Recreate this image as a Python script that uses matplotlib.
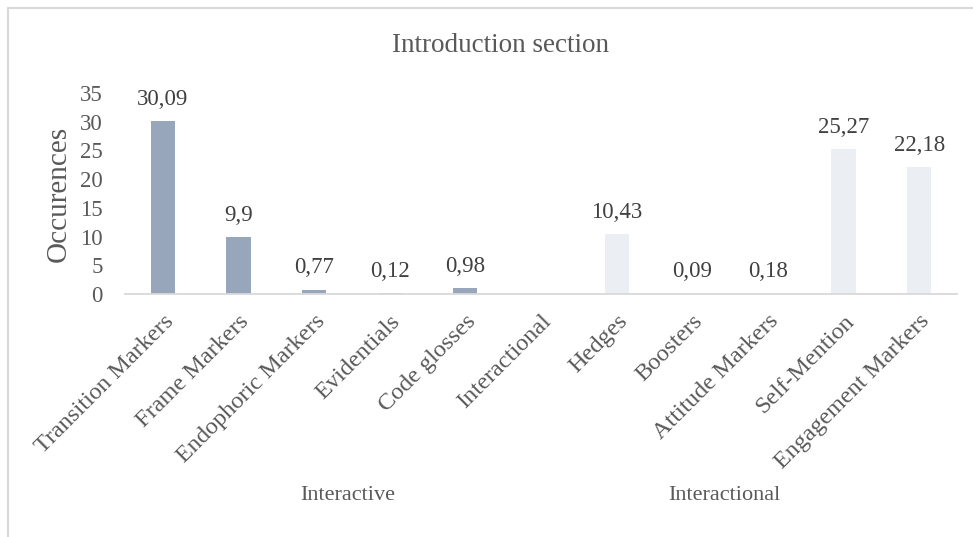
import numpy as np
import matplotlib.pyplot as plt
from matplotlib.lines import Line2D

plt.rcParams['font.family'] = ['Liberation Serif', 'DejaVu Serif']

# metadiscourse markers in the introduction section
categories = ['Transition Markers', 'Frame Markers', 'Endophoric Markers',
              'Evidentials', 'Code glosses', 'Interactional', 'Hedges',
              'Boosters', 'Attitude Markers', 'Self-Mention',
              'Engagement Markers']
values = [30.09, 9.9, 0.77, 0.12, 0.98, np.nan, 10.43, 0.09, 0.18, 25.27, 22.18]
groups = ['Interactive'] * 6 + ['Interactional'] * 5
group_names = ['Interactive', 'Interactional']
yticks = [0, 5, 10, 15, 20, 25, 30, 35]

colors = {'Interactive': '#97A6BA', 'Interactional': '#EBEEF3'}
text_gray = '#595959'

fig = plt.figure(figsize=(9.73, 5.37), dpi=100)
ax = fig.add_axes([0.1285, 0.4525, 0.855, 0.3743])

x = np.arange(len(categories))
for xi, v, g in zip(x, values, groups):
    if np.isnan(v):
        continue
    ax.bar(xi, v, width=0.32, color=colors[g], zorder=2)
    ax.annotate(f'{v:g}'.replace('.', ','), (xi, v), xytext=(0, 8),
                textcoords='offset points', ha='center', va='bottom',
                fontsize=16.5, color='#404040')

ax.set_xlim(-0.5, len(categories) - 0.5)
ax.set_ylim(0, 35)
ax.set_yticks(yticks)
ax.set_yticklabels([str(t) for t in yticks], fontsize=16.5, color=text_gray)
ax.tick_params(axis='y', length=0, pad=16)
ax.set_xticks(x)
ax.set_xticklabels(categories, rotation=45, ha='right', rotation_mode='anchor',
                   fontsize=17.5, color=text_gray)
ax.tick_params(axis='x', length=0, pad=12)

for side in ['top', 'right', 'left']:
    ax.spines[side].set_visible(False)
ax.spines['bottom'].set_color('#D9D9D9')
ax.spines['bottom'].set_linewidth(1.3)

ax.set_ylabel('Occurences', fontsize=21, color=text_gray, labelpad=6)
fig.text(0.514, 0.916, 'Introduction section', ha='center', va='center',
         fontsize=19.5, color=text_gray)

# group captions under the category labels
for name, gx in zip(group_names, [2.45, 7.42]):
    ax.text(gx, (294 - 495) / 201.0, name, transform=ax.get_xaxis_transform(),
            ha='center', va='center', fontsize=16, color=text_gray)

# chart area border
fig.add_artist(Line2D([0.008, 0.008], [0, 0.985], transform=fig.transFigure,
                      color='#D9D9D9', lw=1.5))
fig.add_artist(Line2D([0.008, 1.0], [0.985, 0.985], transform=fig.transFigure,
                      color='#D9D9D9', lw=1.5))

fig.savefig('out.png', dpi=100)
